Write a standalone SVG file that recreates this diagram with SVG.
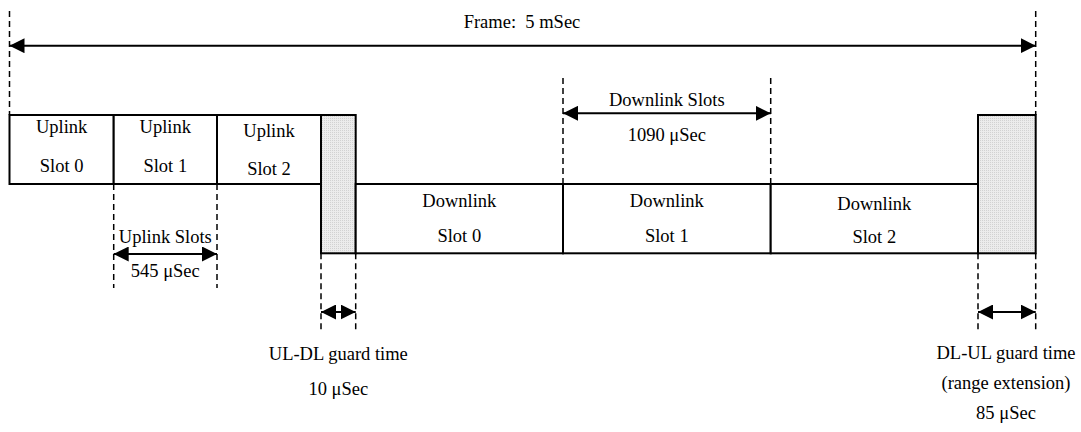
<svg xmlns="http://www.w3.org/2000/svg" width="1081" height="432" viewBox="0 0 1081 432">
<defs>
<marker id="ah" markerUnits="userSpaceOnUse" markerWidth="15" markerHeight="15" refX="15" refY="7.5" orient="auto-start-reverse" viewBox="0 0 15 15">
<path d="M0,0 L15,7.5 L0,15 z" fill="#000"/>
</marker>
<pattern id="dots" patternUnits="userSpaceOnUse" width="2" height="2">
<rect width="2" height="2" fill="#ececec"/>
<rect width="1" height="1" fill="#d2d2d2"/>
</pattern>
<style>
text{font-family:"Liberation Serif","Times New Roman",serif;font-size:18.5px;fill:#000;text-anchor:middle}
.box{fill:#fff;stroke:#000;stroke-width:2}
.guard{fill:url(#dots);stroke:#000;stroke-width:2}
.dash{stroke:#000;stroke-width:1.5;stroke-dasharray:6,4;fill:none}
.arr{stroke:#000;stroke-width:2;fill:none;marker-start:url(#ah);marker-end:url(#ah)}
</style>
</defs>
<rect width="1081" height="432" fill="#fff"/>

<g id="ul0"><rect class="box" x="9.5" y="115" width="104.2" height="69"/><text x="61.6" y="133">Uplink</text><text x="61.6" y="172">Slot 0</text></g>
<g id="ul1"><rect class="box" x="113.7" y="115" width="103.3" height="69"/><text x="165.3" y="133">Uplink</text><text x="165.3" y="172">Slot 1</text></g>
<g id="ul2"><rect class="box" x="217" y="115" width="104" height="69"/><text x="269" y="137">Uplink</text><text x="269" y="175">Slot 2</text></g>
<g id="guard1"><rect class="guard" x="321" y="115" width="34.7" height="138.3"/></g>
<g id="dl0"><rect class="box" x="355.7" y="184" width="207.3" height="69.3"/><text x="459.3" y="207">Downlink</text><text x="459.3" y="242">Slot 0</text></g>
<g id="dl1"><rect class="box" x="563" y="184" width="207.7" height="69.3"/><text x="666.8" y="207">Downlink</text><text x="666.8" y="242">Slot 1</text></g>
<g id="dl2"><rect class="box" x="770.7" y="184" width="207.3" height="69.3"/><text x="874.3" y="210">Downlink</text><text x="874.3" y="243">Slot 2</text></g>
<g id="guard2"><rect class="guard" x="978" y="115" width="57.7" height="138.3"/></g>

<g id="connectors">
<line class="dash" x1="9.5" y1="11" x2="9.5" y2="115"/>
<line class="dash" x1="1035.7" y1="11" x2="1035.7" y2="115"/>
<line class="dash" x1="563" y1="78" x2="563" y2="184"/>
<line class="dash" x1="770.7" y1="78" x2="770.7" y2="184"/>
<line class="dash" x1="113.7" y1="184" x2="113.7" y2="288"/>
<line class="dash" x1="217" y1="184" x2="217" y2="288"/>
<line class="dash" x1="321" y1="253.3" x2="321" y2="330"/>
<line class="dash" x1="355.7" y1="253.3" x2="355.7" y2="330"/>
<line class="dash" x1="978" y1="253.3" x2="978" y2="330"/>
<line class="dash" x1="1035.7" y1="253.3" x2="1035.7" y2="330"/>
<line class="arr" x1="9.5" y1="45.7" x2="1035.7" y2="45.7"/>
<line class="arr" x1="563" y1="113.3" x2="770.7" y2="113.3"/>
<line class="arr" x1="113.7" y1="254" x2="217" y2="254"/>
<line class="arr" x1="321" y1="312" x2="355.7" y2="312"/>
<line class="arr" x1="978" y1="312" x2="1035.7" y2="312"/>
</g>

<g id="labels">
<text x="522" y="28" xml:space="preserve">Frame:  5 mSec</text>
<text x="666.8" y="106">Downlink Slots</text>
<text x="666.8" y="141">1090 μSec</text>
<text x="165.3" y="243">Uplink Slots</text>
<text x="165.3" y="277">545 μSec</text>
<text x="338.3" y="360">UL-DL guard time</text>
<text x="338.3" y="395">10 μSec</text>
<text x="1006" y="359">DL-UL guard time</text>
<text x="1006" y="389">(range extension)</text>
<text x="1006" y="419">85 μSec</text>
</g>
</svg>
